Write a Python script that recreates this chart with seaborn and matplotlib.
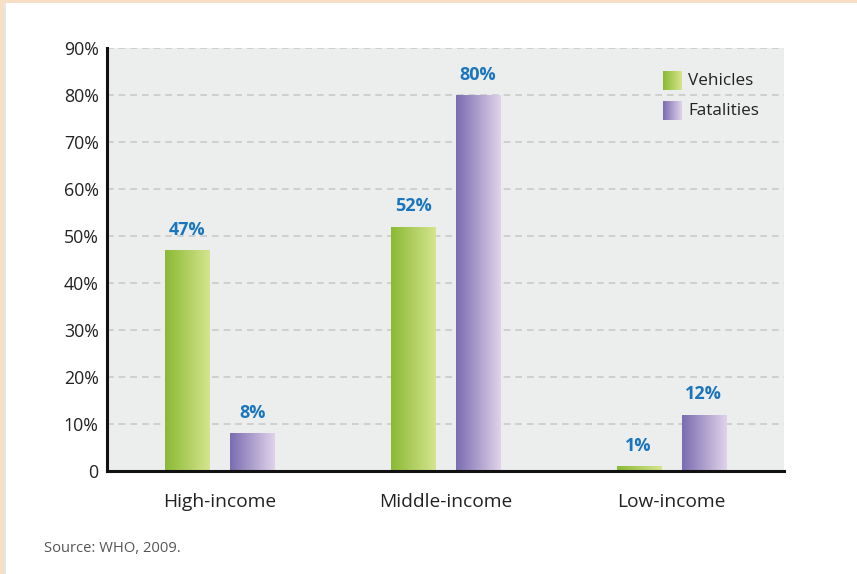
import numpy as np
import pandas as pd
import matplotlib
matplotlib.use("Agg")
import matplotlib.pyplot as plt
from matplotlib.colors import LinearSegmentedColormap
from matplotlib.patches import Rectangle
import seaborn as sns

# Share of world vehicles and road traffic fatalities by country income group
groups = ["High-income", "Middle-income", "Low-income"]
series = ["Vehicles", "Fatalities"]
vehicles = [47, 52, 1]
fatalities = [8, 80, 12]
y_ticks = [0, 10, 20, 30, 40, 50, 60, 70, 80, 90]
y_tick_labels = ["0", "10%", "20%", "30%", "40%", "50%", "60%", "70%", "80%", "90%"]
source_note = "Source: WHO, 2009."

df = pd.DataFrame({
    "group": groups * 2,
    "series": [series[0]] * 3 + [series[1]] * 3,
    "share": vehicles + fatalities,
})

sns.set_theme(style="white")
plt.rcParams["font.family"] = ["Open Sans", "DejaVu Sans"]

grad_colors = {
    "Vehicles": ("#8ab934", "#d5e58e"),
    "Fatalities": ("#7a6cb0", "#e0d3ea"),
}
palette = {k: v[0] for k, v in grad_colors.items()}

fig = plt.figure(figsize=(8.57, 5.74), dpi=100)
ax = fig.add_axes([107 / 857, 1 - 471 / 574, (784 - 107) / 857, (471 - 48) / 574])

sns.barplot(data=df, x="group", y="share", hue="series", order=groups,
            hue_order=series, palette=palette, width=0.576, gap=0.32,
            saturation=1, ax=ax, legend=False, edgecolor="none")

ax.set_facecolor("#eceeed")
ax.set_ylim(0, 90)
ax.set_xlim(-0.5, 2.5)
ax.set_yticks(y_ticks)
ax.set_yticklabels(y_tick_labels)
ax.set_xlabel("")
ax.set_ylabel("")
ax.yaxis.grid(True, color="#c8caca", linestyle=(0, (4, 3)), linewidth=1.2)
ax.set_axisbelow(True)
for side in ("top", "right"):
    ax.spines[side].set_visible(False)
for side in ("left", "bottom"):
    ax.spines[side].set_color("#111111")
    ax.spines[side].set_linewidth(2.2)
ax.tick_params(axis="both", length=0, colors="#222222")
ax.tick_params(axis="y", labelsize=12.8, pad=6)
ax.tick_params(axis="x", labelsize=13.8, pad=16)

# Horizontal gradient fill for each bar plus its value label
grad = np.linspace(0, 1, 256).reshape(1, -1)
for container, name in zip(ax.containers, series):
    cmap = LinearSegmentedColormap.from_list(name, grad_colors[name])
    for bar in container:
        x0, y0 = bar.get_x(), bar.get_y()
        w, h = bar.get_width(), bar.get_height()
        im = ax.imshow(grad, cmap=cmap, aspect="auto", extent=(x0, x0 + w, y0, y0 + h),
                       zorder=bar.get_zorder() + 0.1, interpolation="bicubic")
        im.set_clip_path(bar)
        ax.annotate(f"{h:.0f}%", (x0 + w / 2, y0 + h), xytext=(0, 8),
                    textcoords="offset points", ha="center", va="bottom",
                    fontsize=13, fontweight="bold", color="#1b75bc")
ax.set_xlim(-0.5, 2.5)
ax.set_ylim(0, 90)

# Legend with gradient swatches
for i, name in enumerate(series):
    cmap = LinearSegmentedColormap.from_list(name + "_leg", grad_colors[name])
    top = 71 + i * 30
    lax = fig.add_axes([663 / 857, 1 - (top + 19) / 574, 19 / 857, 19 / 574])
    lax.imshow(grad, cmap=cmap, aspect="auto", interpolation="bicubic")
    lax.axis("off")
    fig.text(688 / 857, 1 - (top + 10) / 574, name, ha="left", va="center",
             fontsize=12.3, color="#222222")

fig.text(44 / 857, 1 - 548 / 574, source_note, ha="left", va="center",
         fontsize=10.6, color="#555555")

# Page frame strips
fig.patches.append(Rectangle((0, 1 - 3 / 574), 1, 3 / 574, transform=fig.transFigure,
                             facecolor="#f6dfc4", edgecolor="none", zorder=-1))
fig.patches.append(Rectangle((0, 0), 4 / 857, 1, transform=fig.transFigure,
                             facecolor="#f6dfc4", edgecolor="none", zorder=-1))
fig.patches.append(Rectangle((4 / 857, 0), 1.5 / 857, 1 - 3 / 574, transform=fig.transFigure,
                             facecolor="#e6e6e6", edgecolor="none", zorder=-1))

fig.savefig("out.png", dpi=100, facecolor="white")
